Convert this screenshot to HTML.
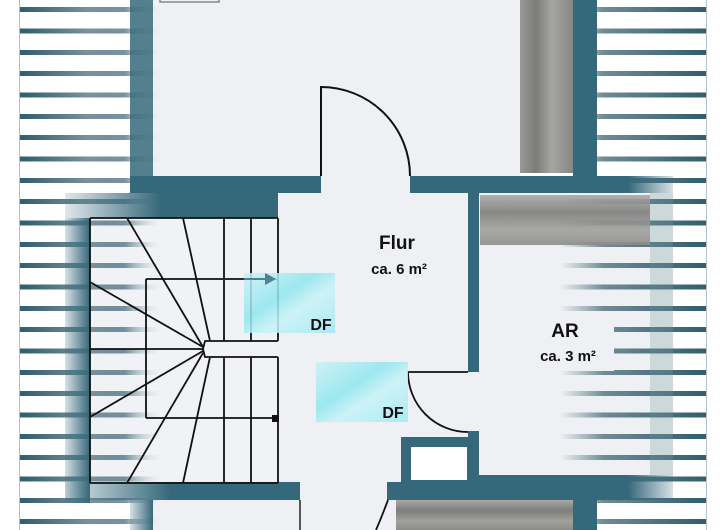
<!DOCTYPE html>
<html><head><meta charset="utf-8"><style>
html,body{margin:0;padding:0;background:#fff;}
svg{display:block;}
text{font-family:"Liberation Sans",sans-serif;font-weight:bold;fill:#111;}
</style></head><body>
<svg width="720" height="530" viewBox="0 0 720 530" xmlns="http://www.w3.org/2000/svg">
<defs>
<linearGradient id="sl" x1="0" x2="1" y1="0" y2="0">
<stop offset="0" stop-color="#2f5e6e"/><stop offset="0.5" stop-color="#7a939b"/><stop offset="0.75" stop-color="#3d6777" stop-opacity="0.7"/><stop offset="1" stop-color="#c0ccd0" stop-opacity="0"/>
</linearGradient>
<linearGradient id="sr" x1="0" x2="1" y1="0" y2="0">
<stop offset="0" stop-color="#7a939b" stop-opacity="0"/><stop offset="0.3" stop-color="#6f8b94"/><stop offset="1" stop-color="#2f5e6e"/>
</linearGradient>
<linearGradient id="wh" x1="0" x2="1" y1="0" y2="0">
<stop offset="0" stop-color="#35687a" stop-opacity="0.15"/><stop offset="0.45" stop-color="#35687a"/><stop offset="1" stop-color="#35687a"/>
</linearGradient>
<linearGradient id="wv" x1="0" x2="1" y1="0" y2="0">
<stop offset="0" stop-color="#35687a" stop-opacity="0.2"/><stop offset="1" stop-color="#35687a"/>
</linearGradient>
<linearGradient id="wr" x1="0" x2="1" y1="0" y2="0">
<stop offset="0" stop-color="#35687a"/><stop offset="0.55" stop-color="#35687a"/><stop offset="1" stop-color="#35687a" stop-opacity="0.2"/>
</linearGradient>
<linearGradient id="bv" x1="0" x2="1" y1="0" y2="0">
<stop offset="0" stop-color="#9a9a98"/><stop offset="0.3" stop-color="#7b7b7a"/><stop offset="0.6" stop-color="#a5a5a2"/><stop offset="1" stop-color="#868684"/>
</linearGradient>
<linearGradient id="bh" x1="0" x2="0" y1="0" y2="1">
<stop offset="0" stop-color="#a8a8a5"/><stop offset="0.35" stop-color="#7d7d7b"/><stop offset="0.7" stop-color="#a0a09d"/><stop offset="1" stop-color="#8c8c8a"/>
</linearGradient>
<linearGradient id="df" x1="0" x2="1" y1="0" y2="1">
<stop offset="0" stop-color="#c9f2f6"/><stop offset="0.4" stop-color="#8fe6ef"/><stop offset="0.6" stop-color="#c7f3f7"/><stop offset="1" stop-color="#9fe9f1"/>
</linearGradient>
</defs>
<!-- room fills -->
<rect x="153" y="0" width="367" height="176" fill="#eef0f4"/>
<rect x="90" y="218" width="188" height="265" fill="#f0f2f5"/>
<rect x="278" y="176" width="190" height="324" fill="#eef0f4"/>
<rect x="300" y="482" width="88" height="48" fill="#eef0f4"/>
<rect x="321" y="170" width="89" height="30" fill="#eef0f4"/>
<rect x="460" y="372" width="30" height="59" fill="#eef0f4"/>
<rect x="479" y="193" width="171" height="282" fill="#eef0f4"/>
<rect x="153" y="500" width="243" height="30" fill="#eef0f4"/>
<!-- stripes -->
<g>
<rect x="20" y="7" width="140" height="5" fill="url(#sl)"/>
<rect x="20" y="28.5" width="140" height="5" fill="url(#sl)"/>
<rect x="20" y="50" width="140" height="5" fill="url(#sl)"/>
<rect x="20" y="71" width="140" height="5" fill="url(#sl)"/>
<rect x="20" y="92.5" width="140" height="5" fill="url(#sl)"/>
<rect x="20" y="114" width="140" height="5" fill="url(#sl)"/>
<rect x="20" y="135" width="140" height="5" fill="url(#sl)"/>
<rect x="20" y="156.5" width="140" height="5" fill="url(#sl)"/>
<rect x="20" y="178" width="140" height="5" fill="url(#sl)"/>
<rect x="20" y="199" width="140" height="5" fill="url(#sl)"/>
<rect x="20" y="220.5" width="140" height="5" fill="url(#sl)"/>
<rect x="20" y="242" width="140" height="5" fill="url(#sl)"/>
<rect x="20" y="263" width="140" height="5" fill="url(#sl)"/>
<rect x="20" y="284.5" width="140" height="5" fill="url(#sl)"/>
<rect x="20" y="306" width="140" height="5" fill="url(#sl)"/>
<rect x="20" y="327" width="140" height="5" fill="url(#sl)"/>
<rect x="20" y="348.5" width="140" height="5" fill="url(#sl)"/>
<rect x="20" y="370" width="140" height="5" fill="url(#sl)"/>
<rect x="20" y="391" width="140" height="5" fill="url(#sl)"/>
<rect x="20" y="412.5" width="140" height="5" fill="url(#sl)"/>
<rect x="20" y="434" width="140" height="5" fill="url(#sl)"/>
<rect x="20" y="455" width="140" height="5" fill="url(#sl)"/>
<rect x="20" y="476.5" width="140" height="5" fill="url(#sl)"/>
<rect x="20" y="498" width="140" height="5" fill="url(#sl)"/>
<rect x="20" y="519" width="140" height="5" fill="url(#sl)"/>
</g>
<g>
<rect x="560" y="7" width="146" height="5" fill="url(#sr)"/>
<rect x="560" y="28.5" width="146" height="5" fill="url(#sr)"/>
<rect x="560" y="50" width="146" height="5" fill="url(#sr)"/>
<rect x="560" y="71" width="146" height="5" fill="url(#sr)"/>
<rect x="560" y="92.5" width="146" height="5" fill="url(#sr)"/>
<rect x="560" y="114" width="146" height="5" fill="url(#sr)"/>
<rect x="560" y="135" width="146" height="5" fill="url(#sr)"/>
<rect x="560" y="156.5" width="146" height="5" fill="url(#sr)"/>
<rect x="560" y="178" width="146" height="5" fill="url(#sr)"/>
<rect x="560" y="199" width="146" height="5" fill="url(#sr)"/>
<rect x="560" y="220.5" width="146" height="5" fill="url(#sr)"/>
<rect x="560" y="242" width="146" height="5" fill="url(#sr)"/>
<rect x="560" y="263" width="146" height="5" fill="url(#sr)"/>
<rect x="560" y="284.5" width="146" height="5" fill="url(#sr)"/>
<rect x="560" y="306" width="146" height="5" fill="url(#sr)"/>
<rect x="560" y="327" width="146" height="5" fill="url(#sr)"/>
<rect x="560" y="348.5" width="146" height="5" fill="url(#sr)"/>
<rect x="560" y="370" width="146" height="5" fill="url(#sr)"/>
<rect x="560" y="391" width="146" height="5" fill="url(#sr)"/>
<rect x="560" y="412.5" width="146" height="5" fill="url(#sr)"/>
<rect x="560" y="434" width="146" height="5" fill="url(#sr)"/>
<rect x="560" y="455" width="146" height="5" fill="url(#sr)"/>
<rect x="560" y="476.5" width="146" height="5" fill="url(#sr)"/>
<rect x="560" y="498" width="146" height="5" fill="url(#sr)"/>
<rect x="560" y="519" width="146" height="5" fill="url(#sr)"/>
</g>
<line x1="19.5" y1="0" x2="19.5" y2="530" stroke="#b8c2c6" stroke-width="1"/>
<line x1="706.5" y1="0" x2="706.5" y2="530" stroke="#b8c2c6" stroke-width="1"/>
<rect x="160" y="-2" width="59" height="4" fill="#eef0f4" stroke="#888" stroke-width="1.5"/>
<!-- beams -->
<rect x="520" y="0" width="53" height="173" fill="url(#bv)"/>
<rect x="480" y="195" width="170" height="50" fill="url(#bh)" opacity="0.9"/>
<rect x="396" y="500" width="177" height="30" fill="url(#bh)"/>
<!-- walls -->
<rect x="130" y="0" width="23" height="193" fill="#35687a" opacity="0.85"/>
<rect x="130" y="176" width="191" height="17" fill="#35687a"/>
<rect x="410" y="176" width="163" height="17" fill="#35687a"/>
<rect x="573" y="176" width="100" height="17" fill="url(#wr)"/>
<rect x="573" y="0" width="24" height="176" fill="#35687a"/>
<rect x="65" y="193" width="213" height="25" fill="url(#wh)"/>
<rect x="65" y="218" width="25" height="285" fill="url(#wv)"/>
<rect x="65" y="482" width="235" height="18" fill="url(#wh)"/>
<rect x="130" y="500" width="23" height="30" fill="url(#wv)"/>
<line x1="300" y1="500" x2="300" y2="530" stroke="#222" stroke-width="1.5"/>
<rect x="650" y="193" width="23" height="282" fill="#6f8e99" opacity="0.35"/>
<rect x="468" y="193" width="11" height="179" fill="#35687a"/>
<rect x="468" y="431" width="11" height="51" fill="#35687a"/>
<rect x="401" y="437" width="78" height="45" fill="#35687a"/>
<rect x="411" y="447" width="56" height="33" fill="#fff"/>
<rect x="387" y="482" width="92" height="18" fill="#35687a"/>
<rect x="479" y="475" width="94" height="25" fill="#35687a"/>
<rect x="573" y="475" width="100" height="25" fill="url(#wr)"/>
<rect x="573" y="500" width="24" height="30" fill="#35687a"/>
<!-- doors -->
<path d="M321 176 L321 87 A89 89 0 0 1 410 176" fill="none" stroke="#111" stroke-width="2"/>
<path d="M468 372 L408 372 A60 60 0 0 0 468 432" fill="none" stroke="#111" stroke-width="1.8"/>
<path d="M388 500 Q382 516 376 530" fill="none" stroke="#111" stroke-width="1.8"/>
<!-- stairs -->
<g stroke="#111" stroke-width="1.8" fill="none">
<line x1="90" y1="218" x2="278" y2="218"/>
<line x1="90" y1="218" x2="90" y2="483"/>
<line x1="90" y1="483" x2="278" y2="483"/>
<line x1="278" y1="218" x2="278" y2="341"/>
<line x1="278" y1="357" x2="278" y2="483"/>
<line x1="224" y1="218" x2="224" y2="341"/>
<line x1="251" y1="218" x2="251" y2="341"/>
<line x1="224" y1="357" x2="224" y2="483"/>
<line x1="251" y1="357" x2="251" y2="483"/>
<line x1="146" y1="279" x2="278" y2="279"/>
<line x1="146" y1="279" x2="146" y2="418"/>
<line x1="146" y1="418" x2="278" y2="418"/>
<path d="M278 341 L205 341 L203 349 L205 357 L278 357"/>
<line x1="203" y1="347" x2="127" y2="218"/>
<line x1="210" y1="341" x2="183" y2="218"/>
<line x1="203" y1="347" x2="90" y2="282"/>
<line x1="203" y1="349" x2="90" y2="349"/>
<line x1="203" y1="351" x2="90" y2="417"/>
<line x1="203" y1="353" x2="127" y2="483"/>
<line x1="210" y1="357" x2="183" y2="483"/>
</g>
<rect x="272" y="415" width="7" height="7" fill="#111"/>
<!-- DF windows -->
<rect x="244" y="273" width="91" height="60" fill="url(#df)" opacity="0.85"/>
<rect x="316" y="362" width="92" height="60" fill="url(#df)" opacity="0.85"/>
<line x1="244" y1="279" x2="266" y2="279" stroke="#4f8190" stroke-width="2"/>
<polygon points="265,273 276,279 265,285" fill="#4f8190"/>
<text x="321" y="330" font-size="16" text-anchor="middle">DF</text>
<text x="393" y="418" font-size="16" text-anchor="middle">DF</text>
<!-- labels -->
<text x="397" y="249" font-size="19" text-anchor="middle">Flur</text>
<text x="399" y="274" font-size="15" text-anchor="middle">ca. 6 m²</text>
<rect x="519" y="315" width="95" height="56" fill="#eef0f4"/>
<text x="565" y="337" font-size="19" text-anchor="middle">AR</text>
<text x="568" y="361" font-size="15" text-anchor="middle">ca. 3 m²</text>
</svg>
</body></html>
